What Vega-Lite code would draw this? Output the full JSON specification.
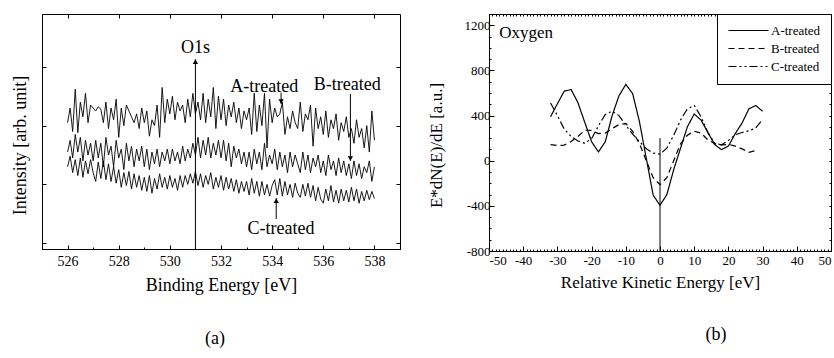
{
"$schema": "https://vega.github.io/schema/vega-lite/v6.json",
"background": "white",
"padding": {"left": 11, "top": 13, "right": 2, "bottom": 2},
"spacing": 25,
"resolve": {"scale": {"strokeDash": "independent", "shape": "independent"}, "legend": {"strokeDash": "independent", "shape": "independent"}},
"config": {
  "view": {"stroke": "black", "strokeWidth": 1},
  "axis": {"grid": false, "domainColor": "black", "tickColor": "black", "labelColor": "black", "titleColor": "black", "labelFont": "Liberation Serif", "titleFont": "Liberation Serif", "titleFontWeight": "normal", "domainWidth": 1, "tickWidth": 1},
  "legend": {"labelFont": "Liberation Serif", "titleFont": "Liberation Serif"},
  "style": {"guide-label": {"font": "Liberation Serif", "fill": "black"}, "guide-title": {"font": "Liberation Serif", "fill": "black", "fontWeight": "normal"}, "group-title": {"font": "Liberation Serif", "fontWeight": "normal"}},
  "title": {"font": "Liberation Serif", "fontWeight": "normal", "fontSize": 18, "color": "black"}
},
"datasets": {
  "xps": [
{"e":526.0,"s":"A","v":2.05},{"e":526.1,"s":"A","v":2.30},{"e":526.2,"s":"A","v":1.90},{"e":526.3,"s":"A","v":2.62},{"e":526.4,"s":"A","v":1.88},{"e":526.5,"s":"A","v":2.40},{"e":526.6,"s":"A","v":2.15},{"e":526.7,"s":"A","v":2.55},{"e":526.8,"s":"A","v":2.05},{"e":526.9,"s":"A","v":2.35},
{"e":527.0,"s":"A","v":2.30},{"e":527.1,"s":"A","v":2.25},{"e":527.2,"s":"A","v":2.32},{"e":527.3,"s":"A","v":2.28},{"e":527.4,"s":"A","v":2.05},{"e":527.5,"s":"A","v":2.40},{"e":527.6,"s":"A","v":1.95},{"e":527.7,"s":"A","v":2.30},{"e":527.8,"s":"A","v":2.10},{"e":527.9,"s":"A","v":2.45},
{"e":528.0,"s":"A","v":1.80},{"e":528.1,"s":"A","v":2.30},{"e":528.2,"s":"A","v":2.00},{"e":528.3,"s":"A","v":2.35},{"e":528.4,"s":"A","v":2.25},{"e":528.5,"s":"A","v":2.15},{"e":528.6,"s":"A","v":2.05},{"e":528.7,"s":"A","v":2.20},{"e":528.8,"s":"A","v":1.95},{"e":528.9,"s":"A","v":2.30},
{"e":529.0,"s":"A","v":2.05},{"e":529.1,"s":"A","v":2.25},{"e":529.2,"s":"A","v":1.82},{"e":529.3,"s":"A","v":2.10},{"e":529.4,"s":"A","v":2.00},{"e":529.5,"s":"A","v":2.35},{"e":529.6,"s":"A","v":1.80},{"e":529.7,"s":"A","v":2.65},{"e":529.8,"s":"A","v":2.05},{"e":529.9,"s":"A","v":2.45},
{"e":530.0,"s":"A","v":2.20},{"e":530.1,"s":"A","v":2.50},{"e":530.2,"s":"A","v":2.10},{"e":530.3,"s":"A","v":2.40},{"e":530.4,"s":"A","v":2.25},{"e":530.5,"s":"A","v":2.35},{"e":530.6,"s":"A","v":2.05},{"e":530.7,"s":"A","v":2.45},{"e":530.8,"s":"A","v":2.15},{"e":530.9,"s":"A","v":2.55},
{"e":531.0,"s":"A","v":2.20},{"e":531.1,"s":"A","v":2.40},{"e":531.2,"s":"A","v":2.10},{"e":531.3,"s":"A","v":2.55},{"e":531.4,"s":"A","v":2.05},{"e":531.5,"s":"A","v":2.45},{"e":531.6,"s":"A","v":2.15},{"e":531.7,"s":"A","v":2.65},{"e":531.8,"s":"A","v":1.95},{"e":531.9,"s":"A","v":2.50},
{"e":532.0,"s":"A","v":2.10},{"e":532.1,"s":"A","v":2.45},{"e":532.2,"s":"A","v":2.00},{"e":532.3,"s":"A","v":2.35},{"e":532.4,"s":"A","v":2.15},{"e":532.5,"s":"A","v":2.40},{"e":532.6,"s":"A","v":2.05},{"e":532.7,"s":"A","v":2.30},{"e":532.8,"s":"A","v":1.95},{"e":532.9,"s":"A","v":2.25},
{"e":533.0,"s":"A","v":2.10},{"e":533.1,"s":"A","v":2.30},{"e":533.2,"s":"A","v":1.85},{"e":533.3,"s":"A","v":2.55},{"e":533.4,"s":"A","v":1.90},{"e":533.5,"s":"A","v":2.35},{"e":533.6,"s":"A","v":2.00},{"e":533.7,"s":"A","v":2.55},{"e":533.8,"s":"A","v":1.62},{"e":533.9,"s":"A","v":2.45},
{"e":534.0,"s":"A","v":2.05},{"e":534.1,"s":"A","v":2.30},{"e":534.2,"s":"A","v":2.15},{"e":534.3,"s":"A","v":2.20},{"e":534.4,"s":"A","v":2.40},{"e":534.5,"s":"A","v":1.85},{"e":534.6,"s":"A","v":2.15},{"e":534.7,"s":"A","v":1.95},{"e":534.8,"s":"A","v":2.25},{"e":534.9,"s":"A","v":2.05},
{"e":535.0,"s":"A","v":1.95},{"e":535.1,"s":"A","v":2.40},{"e":535.2,"s":"A","v":1.90},{"e":535.3,"s":"A","v":2.20},{"e":535.4,"s":"A","v":2.10},{"e":535.5,"s":"A","v":2.35},{"e":535.6,"s":"A","v":1.65},{"e":535.7,"s":"A","v":2.30},{"e":535.8,"s":"A","v":1.95},{"e":535.9,"s":"A","v":2.15},
{"e":536.0,"s":"A","v":1.85},{"e":536.1,"s":"A","v":2.25},{"e":536.2,"s":"A","v":1.80},{"e":536.3,"s":"A","v":2.10},{"e":536.4,"s":"A","v":1.95},{"e":536.5,"s":"A","v":2.20},{"e":536.6,"s":"A","v":1.75},{"e":536.7,"s":"A","v":2.05},{"e":536.8,"s":"A","v":1.90},{"e":536.9,"s":"A","v":2.15},
{"e":537.0,"s":"A","v":1.80},{"e":537.1,"s":"A","v":1.95},{"e":537.2,"s":"A","v":1.70},{"e":537.3,"s":"A","v":2.10},{"e":537.4,"s":"A","v":1.80},{"e":537.5,"s":"A","v":1.95},{"e":537.6,"s":"A","v":1.62},{"e":537.7,"s":"A","v":2.00},{"e":537.8,"s":"A","v":1.55},{"e":537.9,"s":"A","v":2.25},
{"e":538.0,"s":"A","v":1.75},
{"e":526.0,"s":"B","v":1.55},{"e":526.1,"s":"B","v":1.75},{"e":526.2,"s":"B","v":1.45},{"e":526.3,"s":"B","v":1.85},{"e":526.4,"s":"B","v":1.55},{"e":526.5,"s":"B","v":1.80},{"e":526.6,"s":"B","v":1.40},{"e":526.7,"s":"B","v":1.75},{"e":526.8,"s":"B","v":1.50},{"e":526.9,"s":"B","v":1.70},
{"e":527.0,"s":"B","v":1.40},{"e":527.1,"s":"B","v":1.75},{"e":527.2,"s":"B","v":1.45},{"e":527.3,"s":"B","v":1.70},{"e":527.4,"s":"B","v":1.30},{"e":527.5,"s":"B","v":1.80},{"e":527.6,"s":"B","v":1.50},{"e":527.7,"s":"B","v":1.65},{"e":527.8,"s":"B","v":1.30},{"e":527.9,"s":"B","v":1.75},
{"e":528.0,"s":"B","v":1.45},{"e":528.1,"s":"B","v":1.60},{"e":528.2,"s":"B","v":1.25},{"e":528.3,"s":"B","v":1.70},{"e":528.4,"s":"B","v":1.40},{"e":528.5,"s":"B","v":1.65},{"e":528.6,"s":"B","v":1.30},{"e":528.7,"s":"B","v":1.60},{"e":528.8,"s":"B","v":1.40},{"e":528.9,"s":"B","v":1.65},
{"e":529.0,"s":"B","v":1.30},{"e":529.1,"s":"B","v":1.60},{"e":529.2,"s":"B","v":1.25},{"e":529.3,"s":"B","v":1.55},{"e":529.4,"s":"B","v":1.35},{"e":529.5,"s":"B","v":1.60},{"e":529.6,"s":"B","v":1.30},{"e":529.7,"s":"B","v":1.55},{"e":529.8,"s":"B","v":1.40},{"e":529.9,"s":"B","v":1.60},
{"e":530.0,"s":"B","v":1.35},{"e":530.1,"s":"B","v":1.60},{"e":530.2,"s":"B","v":1.40},{"e":530.3,"s":"B","v":1.55},{"e":530.4,"s":"B","v":1.35},{"e":530.5,"s":"B","v":1.65},{"e":530.6,"s":"B","v":1.40},{"e":530.7,"s":"B","v":1.60},{"e":530.8,"s":"B","v":1.45},{"e":530.9,"s":"B","v":1.70},
{"e":531.0,"s":"B","v":1.50},{"e":531.1,"s":"B","v":1.80},{"e":531.2,"s":"B","v":1.45},{"e":531.3,"s":"B","v":1.75},{"e":531.4,"s":"B","v":1.50},{"e":531.5,"s":"B","v":1.80},{"e":531.6,"s":"B","v":1.45},{"e":531.7,"s":"B","v":1.70},{"e":531.8,"s":"B","v":1.50},{"e":531.9,"s":"B","v":1.75},
{"e":532.0,"s":"B","v":1.45},{"e":532.1,"s":"B","v":1.75},{"e":532.2,"s":"B","v":1.40},{"e":532.3,"s":"B","v":1.70},{"e":532.4,"s":"B","v":1.30},{"e":532.5,"s":"B","v":1.65},{"e":532.6,"s":"B","v":1.45},{"e":532.7,"s":"B","v":1.60},{"e":532.8,"s":"B","v":1.35},{"e":532.9,"s":"B","v":1.55},
{"e":533.0,"s":"B","v":1.30},{"e":533.1,"s":"B","v":1.55},{"e":533.2,"s":"B","v":1.25},{"e":533.3,"s":"B","v":1.60},{"e":533.4,"s":"B","v":1.35},{"e":533.5,"s":"B","v":1.55},{"e":533.6,"s":"B","v":1.25},{"e":533.7,"s":"B","v":1.70},{"e":533.8,"s":"B","v":1.30},{"e":533.9,"s":"B","v":1.50},
{"e":534.0,"s":"B","v":1.35},{"e":534.1,"s":"B","v":1.60},{"e":534.2,"s":"B","v":1.25},{"e":534.3,"s":"B","v":1.55},{"e":534.4,"s":"B","v":1.30},{"e":534.5,"s":"B","v":1.50},{"e":534.6,"s":"B","v":1.20},{"e":534.7,"s":"B","v":1.55},{"e":534.8,"s":"B","v":1.30},{"e":534.9,"s":"B","v":1.50},
{"e":535.0,"s":"B","v":1.35},{"e":535.1,"s":"B","v":1.20},{"e":535.2,"s":"B","v":1.55},{"e":535.3,"s":"B","v":1.25},{"e":535.4,"s":"B","v":1.50},{"e":535.5,"s":"B","v":1.20},{"e":535.6,"s":"B","v":1.45},{"e":535.7,"s":"B","v":1.30},{"e":535.8,"s":"B","v":1.50},{"e":535.9,"s":"B","v":1.20},
{"e":536.0,"s":"B","v":1.40},{"e":536.1,"s":"B","v":1.15},{"e":536.2,"s":"B","v":1.50},{"e":536.3,"s":"B","v":1.25},{"e":536.4,"s":"B","v":1.40},{"e":536.5,"s":"B","v":1.15},{"e":536.6,"s":"B","v":1.45},{"e":536.7,"s":"B","v":1.20},{"e":536.8,"s":"B","v":1.40},{"e":536.9,"s":"B","v":1.15},
{"e":537.0,"s":"B","v":1.35},{"e":537.1,"s":"B","v":1.10},{"e":537.2,"s":"B","v":1.40},{"e":537.3,"s":"B","v":1.15},{"e":537.4,"s":"B","v":1.35},{"e":537.5,"s":"B","v":1.10},{"e":537.6,"s":"B","v":1.30},{"e":537.7,"s":"B","v":1.20},{"e":537.8,"s":"B","v":1.40},{"e":537.9,"s":"B","v":1.05},
{"e":538.0,"s":"B","v":1.30},
{"e":526.0,"s":"C","v":1.30},{"e":526.1,"s":"C","v":1.48},{"e":526.2,"s":"C","v":1.20},{"e":526.3,"s":"C","v":1.42},{"e":526.4,"s":"C","v":1.15},{"e":526.5,"s":"C","v":1.45},{"e":526.6,"s":"C","v":1.12},{"e":526.7,"s":"C","v":1.40},{"e":526.8,"s":"C","v":1.18},{"e":526.9,"s":"C","v":1.42},
{"e":527.0,"s":"C","v":1.20},{"e":527.1,"s":"C","v":1.05},{"e":527.2,"s":"C","v":1.38},{"e":527.3,"s":"C","v":1.10},{"e":527.4,"s":"C","v":1.40},{"e":527.5,"s":"C","v":1.08},{"e":527.6,"s":"C","v":1.35},{"e":527.7,"s":"C","v":1.05},{"e":527.8,"s":"C","v":1.30},{"e":527.9,"s":"C","v":1.02},
{"e":528.0,"s":"C","v":1.25},{"e":528.1,"s":"C","v":0.95},{"e":528.2,"s":"C","v":1.20},{"e":528.3,"s":"C","v":0.98},{"e":528.4,"s":"C","v":1.22},{"e":528.5,"s":"C","v":0.92},{"e":528.6,"s":"C","v":1.18},{"e":528.7,"s":"C","v":0.95},{"e":528.8,"s":"C","v":1.15},{"e":528.9,"s":"C","v":0.90},
{"e":529.0,"s":"C","v":1.12},{"e":529.1,"s":"C","v":0.88},{"e":529.2,"s":"C","v":1.15},{"e":529.3,"s":"C","v":0.85},{"e":529.4,"s":"C","v":1.10},{"e":529.5,"s":"C","v":0.92},{"e":529.6,"s":"C","v":1.18},{"e":529.7,"s":"C","v":0.95},{"e":529.8,"s":"C","v":1.12},{"e":529.9,"s":"C","v":0.92},
{"e":530.0,"s":"C","v":1.15},{"e":530.1,"s":"C","v":0.95},{"e":530.2,"s":"C","v":1.10},{"e":530.3,"s":"C","v":0.90},{"e":530.4,"s":"C","v":1.15},{"e":530.5,"s":"C","v":0.95},{"e":530.6,"s":"C","v":1.15},{"e":530.7,"s":"C","v":1.00},{"e":530.8,"s":"C","v":1.18},{"e":530.9,"s":"C","v":1.02},
{"e":531.0,"s":"C","v":1.22},{"e":531.1,"s":"C","v":0.98},{"e":531.2,"s":"C","v":1.18},{"e":531.3,"s":"C","v":0.95},{"e":531.4,"s":"C","v":1.15},{"e":531.5,"s":"C","v":1.00},{"e":531.6,"s":"C","v":1.20},{"e":531.7,"s":"C","v":0.92},{"e":531.8,"s":"C","v":1.12},{"e":531.9,"s":"C","v":0.95},
{"e":532.0,"s":"C","v":1.15},{"e":532.1,"s":"C","v":0.90},{"e":532.2,"s":"C","v":1.12},{"e":532.3,"s":"C","v":0.92},{"e":532.4,"s":"C","v":1.10},{"e":532.5,"s":"C","v":0.88},{"e":532.6,"s":"C","v":1.08},{"e":532.7,"s":"C","v":0.85},{"e":532.8,"s":"C","v":1.05},{"e":532.9,"s":"C","v":0.88},
{"e":533.0,"s":"C","v":1.05},{"e":533.1,"s":"C","v":0.82},{"e":533.2,"s":"C","v":1.10},{"e":533.3,"s":"C","v":0.85},{"e":533.4,"s":"C","v":1.05},{"e":533.5,"s":"C","v":0.80},{"e":533.6,"s":"C","v":1.05},{"e":533.7,"s":"C","v":0.82},{"e":533.8,"s":"C","v":1.00},{"e":533.9,"s":"C","v":0.80},
{"e":534.0,"s":"C","v":0.98},{"e":534.1,"s":"C","v":1.08},{"e":534.2,"s":"C","v":0.82},{"e":534.3,"s":"C","v":1.10},{"e":534.4,"s":"C","v":0.80},{"e":534.5,"s":"C","v":1.05},{"e":534.6,"s":"C","v":0.82},{"e":534.7,"s":"C","v":1.00},{"e":534.8,"s":"C","v":0.78},{"e":534.9,"s":"C","v":1.02},
{"e":535.0,"s":"C","v":0.85},{"e":535.1,"s":"C","v":0.78},{"e":535.2,"s":"C","v":1.00},{"e":535.3,"s":"C","v":0.80},{"e":535.4,"s":"C","v":1.02},{"e":535.5,"s":"C","v":0.78},{"e":535.6,"s":"C","v":0.98},{"e":535.7,"s":"C","v":0.72},{"e":535.8,"s":"C","v":0.95},{"e":535.9,"s":"C","v":0.75},
{"e":536.0,"s":"C","v":0.68},{"e":536.1,"s":"C","v":0.92},{"e":536.2,"s":"C","v":0.72},{"e":536.3,"s":"C","v":0.98},{"e":536.4,"s":"C","v":0.70},{"e":536.5,"s":"C","v":0.90},{"e":536.6,"s":"C","v":0.68},{"e":536.7,"s":"C","v":0.92},{"e":536.8,"s":"C","v":0.72},{"e":536.9,"s":"C","v":0.90},
{"e":537.0,"s":"C","v":0.70},{"e":537.1,"s":"C","v":0.95},{"e":537.2,"s":"C","v":0.72},{"e":537.3,"s":"C","v":0.92},{"e":537.4,"s":"C","v":0.68},{"e":537.5,"s":"C","v":0.88},{"e":537.6,"s":"C","v":0.72},{"e":537.7,"s":"C","v":0.90},{"e":537.8,"s":"C","v":0.74},{"e":537.9,"s":"C","v":0.88},
{"e":538.0,"s":"C","v":0.76}
  ],
  "arrowsA": [
    {"x": 531, "y": -0.1, "y2": 3.13},
    {"x": 534.35, "y": 2.56, "y2": 2.37},
    {"x": 537.06, "y": 2.54, "y2": 1.40},
    {"x": 534.16, "y": 0.41, "y2": 0.77}
  ],
  "headsA": [
    {"x": 531, "y": 3.09, "dir": "up"},
    {"x": 534.35, "y": 2.41, "dir": "down"},
    {"x": 537.06, "y": 1.44, "dir": "down"},
    {"x": 534.16, "y": 0.72, "dir": "up"}
  ],
  "textA": [
    {"x": 531, "y": 3.32, "label": "O1s"},
    {"x": 533.69, "y": 2.66, "label": "A-treated"},
    {"x": 536.94, "y": 2.69, "label": "B-treated"},
    {"x": 534.35, "y": 0.24, "label": "C-treated"}
  ],
  "aes": [
{"e":-32,"s":"A-treated","v":390},{"e":-30,"s":"A-treated","v":505},{"e":-28,"s":"A-treated","v":616},{"e":-26,"s":"A-treated","v":631},{"e":-24,"s":"A-treated","v":515},{"e":-22,"s":"A-treated","v":340},{"e":-20,"s":"A-treated","v":168},{"e":-18,"s":"A-treated","v":78},{"e":-16,"s":"A-treated","v":168},{"e":-14,"s":"A-treated","v":400},{"e":-12,"s":"A-treated","v":575},{"e":-10,"s":"A-treated","v":676},{"e":-8,"s":"A-treated","v":595},{"e":-6,"s":"A-treated","v":345},{"e":-4,"s":"A-treated","v":20},{"e":-2,"s":"A-treated","v":-305},{"e":0,"s":"A-treated","v":-395},{"e":2,"s":"A-treated","v":-300},{"e":4,"s":"A-treated","v":-80},{"e":6,"s":"A-treated","v":110},{"e":8,"s":"A-treated","v":300},{"e":10,"s":"A-treated","v":414},{"e":12,"s":"A-treated","v":360},{"e":14,"s":"A-treated","v":250},{"e":16,"s":"A-treated","v":142},{"e":18,"s":"A-treated","v":98},{"e":20,"s":"A-treated","v":130},{"e":22,"s":"A-treated","v":240},{"e":24,"s":"A-treated","v":334},{"e":26,"s":"A-treated","v":460},{"e":28,"s":"A-treated","v":489},{"e":30,"s":"A-treated","v":438},
{"e":-32,"s":"B-treated","v":142},{"e":-30,"s":"B-treated","v":135},{"e":-28,"s":"B-treated","v":138},{"e":-26,"s":"B-treated","v":170},{"e":-24,"s":"B-treated","v":215},{"e":-22,"s":"B-treated","v":270},{"e":-20,"s":"B-treated","v":268},{"e":-18,"s":"B-treated","v":240},{"e":-16,"s":"B-treated","v":245},{"e":-14,"s":"B-treated","v":285},{"e":-12,"s":"B-treated","v":320},{"e":-10,"s":"B-treated","v":330},{"e":-8,"s":"B-treated","v":260},{"e":-6,"s":"B-treated","v":150},{"e":-4,"s":"B-treated","v":0},{"e":-2,"s":"B-treated","v":-150},{"e":0,"s":"B-treated","v":-213},{"e":2,"s":"B-treated","v":-150},{"e":4,"s":"B-treated","v":0},{"e":6,"s":"B-treated","v":150},{"e":8,"s":"B-treated","v":225},{"e":10,"s":"B-treated","v":262},{"e":12,"s":"B-treated","v":245},{"e":14,"s":"B-treated","v":185},{"e":16,"s":"B-treated","v":150},{"e":18,"s":"B-treated","v":140},{"e":20,"s":"B-treated","v":145},{"e":22,"s":"B-treated","v":130},{"e":24,"s":"B-treated","v":105},{"e":26,"s":"B-treated","v":75},{"e":28,"s":"B-treated","v":90},
{"e":-32,"s":"C-treated","v":512},{"e":-30,"s":"C-treated","v":400},{"e":-28,"s":"C-treated","v":280},{"e":-26,"s":"C-treated","v":215},{"e":-24,"s":"C-treated","v":175},{"e":-22,"s":"C-treated","v":155},{"e":-20,"s":"C-treated","v":195},{"e":-18,"s":"C-treated","v":310},{"e":-16,"s":"C-treated","v":409},{"e":-14,"s":"C-treated","v":440},{"e":-12,"s":"C-treated","v":400},{"e":-10,"s":"C-treated","v":315},{"e":-8,"s":"C-treated","v":235},{"e":-6,"s":"C-treated","v":170},{"e":-4,"s":"C-treated","v":105},{"e":-2,"s":"C-treated","v":68},{"e":0,"s":"C-treated","v":58},{"e":2,"s":"C-treated","v":112},{"e":4,"s":"C-treated","v":225},{"e":6,"s":"C-treated","v":360},{"e":8,"s":"C-treated","v":460},{"e":10,"s":"C-treated","v":490},{"e":12,"s":"C-treated","v":390},{"e":14,"s":"C-treated","v":250},{"e":16,"s":"C-treated","v":156},{"e":18,"s":"C-treated","v":140},{"e":20,"s":"C-treated","v":180},{"e":22,"s":"C-treated","v":230},{"e":24,"s":"C-treated","v":250},{"e":26,"s":"C-treated","v":265},{"e":28,"s":"C-treated","v":290},{"e":30,"s":"C-treated","v":365}
  ],
  "zeroB": [{"x": 0, "y": -800, "y2": 200}],
  "textB": [{"x": -47, "y": 1134, "label": "Oxygen"}]
},
"hconcat": [
  {
    "width": 358, "height": 235,
    "title": {"text": "(a)", "orient": "bottom", "anchor": "middle", "frame": "group", "dx": -6, "offset": 36, "font": "Liberation Serif", "fontSize": 18, "fontWeight": "normal"},
    "resolve": {"axis": {"x": "independent", "y": "independent"}},
    "layer": [
      {
        "data": {"name": "xps"},
        "mark": {"type": "line", "color": "black", "strokeWidth": 0.9},
        "encoding": {
          "x": {"field": "e", "type": "quantitative", "scale": {"domain": [525, 539], "nice": false, "zero": false},
                "axis": {"orient": "bottom", "values": [526, 528, 530, 532, 534, 536, 538], "tickSize": -4, "labelFont": "Liberation Serif", "labelFontSize": 14, "labelPadding": 9, "title": "Binding Energy [eV]", "titleFont": "Liberation Serif", "titleFontSize": 18, "titleFontWeight": "normal", "titlePadding": 8}},
          "y": {"field": "v", "type": "quantitative", "scale": {"domain": [-0.1, 3.9], "nice": false, "zero": false},
                "axis": {"orient": "left", "values": [0, 1, 2, 3], "tickSize": -4, "labels": false, "title": "Intensity [arb. unit]", "titleFont": "Liberation Serif", "titleFontSize": 18, "titleFontWeight": "normal", "titlePadding": 12, "titleY": 131}},
          "detail": {"field": "s", "type": "nominal"}
        }
      },
      {
        "data": {"name": "arrowsA"},
        "mark": {"type": "rule", "color": "black", "strokeWidth": 1},
        "encoding": {
          "x": {"field": "x", "type": "quantitative", "scale": {"domain": [525, 539], "nice": false, "zero": false},
                "axis": {"orient": "bottom", "values": [525, 526, 527, 528, 529, 530, 531, 532, 533, 534, 535, 536, 537, 538, 539], "tickSize": -2, "labels": false, "title": null, "domain": false}},
          "y": {"field": "y", "type": "quantitative", "scale": {"domain": [-0.1, 3.9], "nice": false, "zero": false},
                "axis": {"orient": "right", "values": [0, 1, 2, 3], "tickSize": -4, "labels": false, "title": null, "domain": false}},
          "y2": {"field": "y2"}
        }
      },
      {
        "data": {"name": "headsA"},
        "mark": {"type": "point", "filled": true, "color": "black", "size": 28, "opacity": 1},
        "encoding": {
          "x": {"field": "x", "type": "quantitative", "scale": {"domain": [525, 539], "nice": false, "zero": false},
                "axis": {"orient": "top", "values": [526, 528, 530, 532, 534, 536, 538], "tickSize": -4, "labels": false, "title": null, "domain": false}},
          "y": {"field": "y", "type": "quantitative", "scale": {"domain": [-0.1, 3.9], "nice": false, "zero": false}, "axis": null},
          "shape": {"field": "dir", "type": "nominal", "scale": {"domain": ["up", "down"], "range": ["triangle-up", "triangle-down"]}, "legend": null}
        }
      },
      {
        "data": {"name": "textA"},
        "mark": {"type": "text", "font": "Liberation Serif", "fontSize": 18, "color": "black", "align": "center", "baseline": "middle"},
        "encoding": {
          "x": {"field": "x", "type": "quantitative", "scale": {"domain": [525, 539], "nice": false, "zero": false}, "axis": null},
          "y": {"field": "y", "type": "quantitative", "scale": {"domain": [-0.1, 3.9], "nice": false, "zero": false}, "axis": null},
          "text": {"field": "label", "type": "nominal"}
        }
      }
    ]
  },
  {
    "width": 342, "height": 237,
    "title": {"text": "(b)", "orient": "bottom", "anchor": "middle", "frame": "group", "dx": 56, "offset": 36, "font": "Liberation Serif", "fontSize": 18, "fontWeight": "normal"},
    "resolve": {"axis": {"x": "independent", "y": "independent"}},
    "layer": [
      {
        "data": {"name": "aes"},
        "mark": {"type": "line", "color": "black", "strokeWidth": 1.2},
        "encoding": {
          "x": {"field": "e", "type": "quantitative", "scale": {"domain": [-50, 50], "nice": false, "zero": false},
                "axis": {"orient": "bottom", "values": [-50, -40, -30, -20, -10, 0, 10, 20, 30, 40, 50], "labelExpr": "'' + datum.value", "tickSize": -5, "labelFont": "Liberation Serif", "labelFontSize": 13, "labelPadding": 8, "title": "Relative Kinetic Energy [eV]", "titleFont": "Liberation Serif", "titleFontSize": 17, "titleFontWeight": "normal", "titlePadding": 7}},
          "y": {"field": "v", "type": "quantitative", "scale": {"domain": [-800, 1300], "nice": false, "zero": false},
                "axis": {"orient": "left", "values": [-800, -400, 0, 400, 800, 1200], "labelExpr": "'' + datum.value", "tickSize": -5, "labelFont": "Liberation Serif", "labelFontSize": 13, "labelPadding": 4, "title": "E*dN(E)/dE [a.u.]", "titleFont": "Liberation Serif", "titleFontSize": 17, "titleFontWeight": "normal", "titleX": -53, "titleY": 131, "titleBaseline": "middle"}},
          "strokeDash": {"field": "s", "type": "nominal",
                "scale": {"domain": ["A-treated", "B-treated", "C-treated"], "range": [[1, 0], [6, 4], [8, 3, 2, 3, 2, 3]]},
                "legend": {"orient": "top-right", "offset": 0, "title": null, "strokeColor": "black", "fillColor": "white", "padding": 10, "labelFont": "Liberation Serif", "labelFontSize": 13, "labelColor": "black", "symbolType": "M-1,0H7", "symbolSize": 100, "symbolStrokeColor": "black", "symbolStrokeWidth": 1.2, "rowPadding": 4, "labelOffset": 31, "cornerRadius": 0}}
        }
      },
      {
        "data": {"name": "zeroB"},
        "mark": {"type": "rule", "color": "black", "strokeWidth": 1},
        "encoding": {
          "x": {"field": "x", "type": "quantitative", "scale": {"domain": [-50, 50], "nice": false, "zero": false},
                "axis": {"orient": "bottom", "values": [-50,-49,-48,-47,-46,-45,-44,-43,-42,-41,-40,-39,-38,-37,-36,-35,-34,-33,-32,-31,-30,-29,-28,-27,-26,-25,-24,-23,-22,-21,-20,-19,-18,-17,-16,-15,-14,-13,-12,-11,-10,-9,-8,-7,-6,-5,-4,-3,-2,-1,0,1,2,3,4,5,6,7,8,9,10,11,12,13,14,15,16,17,18,19,20,21,22,23,24,25,26,27,28,29,30,31,32,33,34,35,36,37,38,39,40,41,42,43,44,45,46,47,48,49,50], "tickSize": -2, "labels": false, "title": null, "domain": false}},
          "y": {"field": "y", "type": "quantitative", "scale": {"domain": [-800, 1300], "nice": false, "zero": false},
                "axis": {"orient": "left", "values": [-800,-700,-600,-500,-400,-300,-200,-100,0,100,200,300,400,500,600,700,800,900,1000,1100,1200,1300], "tickSize": -2, "labels": false, "title": null, "domain": false}},
          "y2": {"field": "y2"}
        }
      },
      {
        "data": {"name": "textB"},
        "mark": {"type": "text", "font": "Liberation Serif", "fontSize": 17, "color": "black", "align": "left", "baseline": "middle"},
        "encoding": {
          "x": {"field": "x", "type": "quantitative", "scale": {"domain": [-50, 50], "nice": false, "zero": false},
                "axis": {"orient": "top", "values": [-50,-49,-48,-47,-46,-45,-44,-43,-42,-41,-40,-39,-38,-37,-36,-35,-34,-33,-32,-31,-30,-29,-28,-27,-26,-25,-24,-23,-22,-21,-20,-19,-18,-17,-16,-15,-14,-13,-12,-11,-10,-9,-8,-7,-6,-5,-4,-3,-2,-1,0,1,2,3,4,5,6,7,8,9,10,11,12,13,14,15,16,17,18,19,20,21,22,23,24,25,26,27,28,29,30,31,32,33,34,35,36,37,38,39,40,41,42,43,44,45,46,47,48,49,50], "tickSize": -2, "labels": false, "title": null, "domain": false}},
          "y": {"field": "y", "type": "quantitative", "scale": {"domain": [-800, 1300], "nice": false, "zero": false},
                "axis": {"orient": "right", "values": [-800,-700,-600,-500,-400,-300,-200,-100,0,100,200,300,400,500,600,700,800,900,1000,1100,1200,1300], "tickSize": -2, "labels": false, "title": null, "domain": false}},
          "text": {"field": "label", "type": "nominal"}
        }
      }
    ]
  }
]
}
